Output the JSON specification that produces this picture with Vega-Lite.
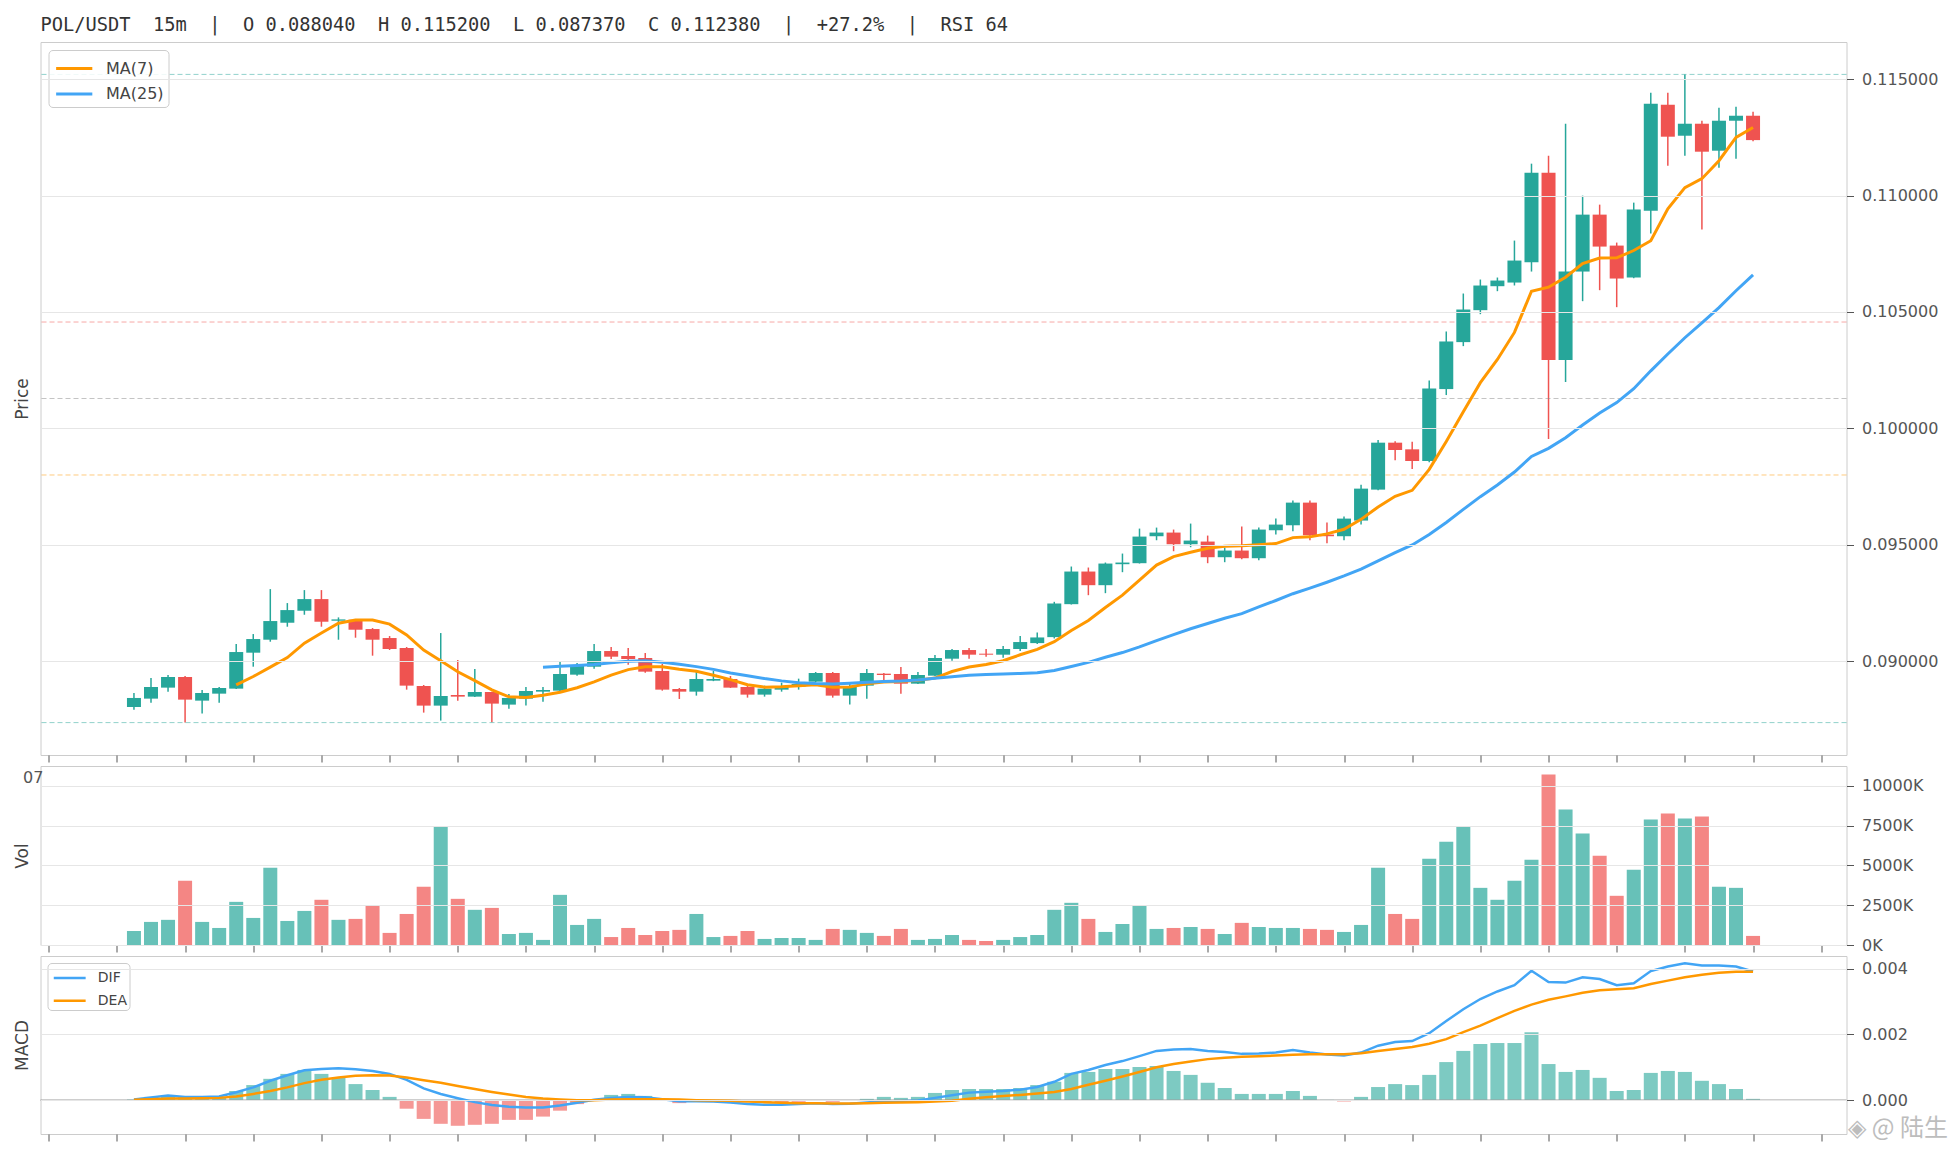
{
  "$schema": "https://vega.github.io/schema/vega-lite/v6.json",
  "background": "white",
  "padding": {"left": 12.5, "top": 15, "right": 5, "bottom": 5},
  "bounds": "flush",
  "spacing": 11,
  "config": {
    "view": {"stroke": "#cccccc", "strokeWidth": 1},
    "axis": {
      "labelFont": "DejaVu Sans", "labelFontSize": 16, "labelColor": "#555555",
      "titleFont": "DejaVu Sans", "titleFontSize": 17, "titleFontWeight": "normal", "titleColor": "#444444",
      "tickColor": "#555555", "tickSize": 7, "domain": false, "gridColor": "#e6e6e6", "gridWidth": 1, "labelPadding": 8
    },
    "legend": {"labelFont": "DejaVu Sans", "labelColor": "#444444", "title": null}
  },
  "resolve": {
    "scale": {"x": "independent", "color": "independent"},
    "axis": {"x": "independent"},
    "legend": {"color": "independent"}
  },
  "datasets": {
    "k": [
      {"i":0,"o":0.08804,"h":0.088642,"l":0.087927,"c":0.088428,"v":880000,"dif":0.00002,"dea":0.00001,"hist":0.00002},
      {"i":1,"o":0.088399,"h":0.089285,"l":0.088227,"c":0.088899,"v":1450000,"dif":0.00008,"dea":0.00003,"hist":0.0001},
      {"i":2,"o":0.088871,"h":0.089414,"l":0.088699,"c":0.089328,"v":1580000,"dif":0.00014,"dea":0.00005,"hist":0.00015},
      {"i":3,"o":0.089328,"h":0.089371,"l":0.08737,"c":0.088356,"v":4030000,"dif":0.0001,"dea":0.00005,"hist":0.0001},
      {"i":4,"o":0.088313,"h":0.088771,"l":0.087756,"c":0.088642,"v":1450000,"dif":0.0001,"dea":0.00006,"hist":0.00008},
      {"i":5,"o":0.088613,"h":0.088899,"l":0.088227,"c":0.088856,"v":1070000,"dif":0.00011,"dea":0.00007,"hist":0.0001},
      {"i":6,"o":0.088828,"h":0.090743,"l":0.08881,"c":0.0904,"v":2710000,"dif":0.00024,"dea":0.00011,"hist":0.00028},
      {"i":7,"o":0.090372,"h":0.091172,"l":0.089771,"c":0.090958,"v":1700000,"dif":0.00039,"dea":0.00019,"hist":0.00046},
      {"i":8,"o":0.090929,"h":0.093102,"l":0.090843,"c":0.09173,"v":4850000,"dif":0.00059,"dea":0.00028,"hist":0.00065},
      {"i":9,"o":0.091658,"h":0.092502,"l":0.091487,"c":0.092201,"v":1510000,"dif":0.00076,"dea":0.00039,"hist":0.0008},
      {"i":10,"o":0.092173,"h":0.093059,"l":0.092001,"c":0.092673,"v":2140000,"dif":0.00091,"dea":0.00052,"hist":0.00092},
      {"i":11,"o":0.092673,"h":0.093059,"l":0.091487,"c":0.091701,"v":2840000,"dif":0.00095,"dea":0.00062,"hist":0.0008},
      {"i":12,"o":0.091744,"h":0.091887,"l":0.090929,"c":0.091801,"v":1580000,"dif":0.00097,"dea":0.00069,"hist":0.00068},
      {"i":13,"o":0.091787,"h":0.0918,"l":0.091015,"c":0.091358,"v":1640000,"dif":0.00094,"dea":0.00074,"hist":0.00049},
      {"i":14,"o":0.091387,"h":0.09143,"l":0.090243,"c":0.090929,"v":2460000,"dif":0.00089,"dea":0.00076,"hist":0.00031},
      {"i":15,"o":0.091001,"h":0.091086,"l":0.090486,"c":0.090529,"v":760000,"dif":0.0008,"dea":0.00075,"hist":0.0001},
      {"i":16,"o":0.090572,"h":0.090615,"l":0.088785,"c":0.088957,"v":1950000,"dif":0.00062,"dea":0.00069,"hist":-0.00026},
      {"i":17,"o":0.088942,"h":0.088985,"l":0.087799,"c":0.088099,"v":3660000,"dif":0.00036,"dea":0.00061,"hist":-0.00057},
      {"i":18,"o":0.088099,"h":0.091215,"l":0.087456,"c":0.088513,"v":7460000,"dif":0.00019,"dea":0.00053,"hist":-0.00072},
      {"i":19,"o":0.088556,"h":0.090057,"l":0.088313,"c":0.088485,"v":2900000,"dif":0.00006,"dea":0.00043,"hist":-0.00078},
      {"i":20,"o":0.088485,"h":0.089671,"l":0.08847,"c":0.088685,"v":2210000,"dif":-0.00006,"dea":0.00034,"hist":-0.00075},
      {"i":21,"o":0.088685,"h":0.0887,"l":0.087384,"c":0.088185,"v":2330000,"dif":-0.00015,"dea":0.00025,"hist":-0.00072},
      {"i":22,"o":0.088142,"h":0.088599,"l":0.08797,"c":0.088428,"v":690000,"dif":-0.0002,"dea":0.00017,"hist":-0.0006},
      {"i":23,"o":0.088399,"h":0.088899,"l":0.088099,"c":0.088728,"v":760000,"dif":-0.00022,"dea":0.0001,"hist":-0.0006},
      {"i":24,"o":0.088699,"h":0.088899,"l":0.08827,"c":0.088771,"v":320000,"dif":-0.00022,"dea":0.00005,"hist":-0.0005},
      {"i":25,"o":0.088742,"h":0.089971,"l":0.08873,"c":0.089457,"v":3150000,"dif":-0.00016,"dea":0.00002,"hist":-0.00032},
      {"i":26,"o":0.089428,"h":0.089929,"l":0.089385,"c":0.089814,"v":1260000,"dif":-0.00008,"dea":0.0,"hist":-0.00012},
      {"i":27,"o":0.089771,"h":0.090743,"l":0.089686,"c":0.090443,"v":1640000,"dif":0.00001,"dea":0.0,"hist":0.00003},
      {"i":28,"o":0.090443,"h":0.090615,"l":0.0901,"c":0.0902,"v":500000,"dif":0.00007,"dea":0.00002,"hist":0.00016},
      {"i":29,"o":0.090229,"h":0.090572,"l":0.089857,"c":0.0901,"v":1070000,"dif":0.0001,"dea":0.00003,"hist":0.00019},
      {"i":30,"o":0.090143,"h":0.090357,"l":0.089514,"c":0.089557,"v":630000,"dif":0.00009,"dea":0.00003,"hist":0.00013},
      {"i":31,"o":0.089585,"h":0.089886,"l":0.088742,"c":0.088785,"v":880000,"dif":0.00003,"dea":0.00003,"hist":0.00002},
      {"i":32,"o":0.088814,"h":0.088857,"l":0.088385,"c":0.088699,"v":950000,"dif":-0.00003,"dea":0.00002,"hist":-0.00009},
      {"i":33,"o":0.088699,"h":0.089585,"l":0.088528,"c":0.089242,"v":1950000,"dif":-0.00003,"dea":0.0,"hist":-0.00003},
      {"i":34,"o":0.089171,"h":0.089585,"l":0.08915,"c":0.089242,"v":500000,"dif":-0.00004,"dea":-0.00001,"hist":-0.00005},
      {"i":35,"o":0.089242,"h":0.089371,"l":0.08886,"c":0.088871,"v":570000,"dif":-0.00007,"dea":-0.00002,"hist":-0.00006},
      {"i":36,"o":0.088899,"h":0.088985,"l":0.088442,"c":0.088571,"v":880000,"dif":-0.00012,"dea":-0.00004,"hist":-0.00006},
      {"i":37,"o":0.088571,"h":0.088957,"l":0.088485,"c":0.088828,"v":380000,"dif":-0.00014,"dea":-0.00006,"hist":-0.00007},
      {"i":38,"o":0.088785,"h":0.089085,"l":0.088699,"c":0.088914,"v":440000,"dif":-0.00014,"dea":-0.00008,"hist":-0.00007},
      {"i":39,"o":0.088914,"h":0.089257,"l":0.088785,"c":0.089028,"v":440000,"dif":-0.00012,"dea":-0.00009,"hist":-0.00005},
      {"i":40,"o":0.089128,"h":0.089543,"l":0.0891,"c":0.0895,"v":320000,"dif":-0.00009,"dea":-0.00009,"hist":-0.00002},
      {"i":41,"o":0.0895,"h":0.089543,"l":0.088442,"c":0.088528,"v":1010000,"dif":-0.00012,"dea":-0.0001,"hist":-0.00005},
      {"i":42,"o":0.088528,"h":0.089028,"l":0.088142,"c":0.088942,"v":950000,"dif":-0.00011,"dea":-0.0001,"hist":-0.00002},
      {"i":43,"o":0.088957,"h":0.089671,"l":0.088399,"c":0.0895,"v":760000,"dif":-0.00007,"dea":-0.00009,"hist":0.00004},
      {"i":44,"o":0.089471,"h":0.0895,"l":0.089171,"c":0.089414,"v":570000,"dif":-0.00003,"dea":-0.00008,"hist":0.0001},
      {"i":45,"o":0.089457,"h":0.089757,"l":0.088614,"c":0.089042,"v":1010000,"dif":-0.00003,"dea":-0.00007,"hist":0.00007},
      {"i":46,"o":0.089042,"h":0.089543,"l":0.08903,"c":0.089414,"v":320000,"dif":-0.00001,"dea":-0.00006,"hist":0.0001},
      {"i":47,"o":0.089385,"h":0.090272,"l":0.08937,"c":0.090143,"v":380000,"dif":0.00007,"dea":-0.00004,"hist":0.00022},
      {"i":48,"o":0.090114,"h":0.090529,"l":0.090029,"c":0.090486,"v":630000,"dif":0.00015,"dea":-0.00002,"hist":0.00031},
      {"i":49,"o":0.090486,"h":0.090572,"l":0.090114,"c":0.090286,"v":320000,"dif":0.00023,"dea":0.00004,"hist":0.00034},
      {"i":50,"o":0.090329,"h":0.090529,"l":0.0902,"c":0.090286,"v":250000,"dif":0.00026,"dea":0.00009,"hist":0.00034},
      {"i":51,"o":0.090286,"h":0.090657,"l":0.090157,"c":0.090529,"v":320000,"dif":0.00028,"dea":0.00013,"hist":0.00034},
      {"i":52,"o":0.090529,"h":0.091086,"l":0.090443,"c":0.090829,"v":500000,"dif":0.00032,"dea":0.00016,"hist":0.00037},
      {"i":53,"o":0.090783,"h":0.09124,"l":0.09074,"c":0.091026,"v":630000,"dif":0.0004,"dea":0.0002,"hist":0.00046},
      {"i":54,"o":0.09104,"h":0.092556,"l":0.090983,"c":0.092484,"v":2210000,"dif":0.00056,"dea":0.00025,"hist":0.00056},
      {"i":55,"o":0.092455,"h":0.094071,"l":0.09244,"c":0.093856,"v":2650000,"dif":0.0008,"dea":0.00034,"hist":0.00083},
      {"i":56,"o":0.093856,"h":0.094028,"l":0.092841,"c":0.09327,"v":1640000,"dif":0.00092,"dea":0.00047,"hist":0.00086},
      {"i":57,"o":0.09327,"h":0.094242,"l":0.092927,"c":0.094199,"v":820000,"dif":0.00107,"dea":0.00059,"hist":0.00095},
      {"i":58,"o":0.094171,"h":0.094628,"l":0.093828,"c":0.094242,"v":1320000,"dif":0.00119,"dea":0.00072,"hist":0.00095},
      {"i":59,"o":0.094214,"h":0.0957,"l":0.0942,"c":0.095357,"v":2480000,"dif":0.00134,"dea":0.00086,"hist":0.00101},
      {"i":60,"o":0.095372,"h":0.095743,"l":0.0952,"c":0.095529,"v":1010000,"dif":0.0015,"dea":0.001,"hist":0.00104},
      {"i":61,"o":0.095529,"h":0.095658,"l":0.094728,"c":0.095029,"v":1070000,"dif":0.00154,"dea":0.0011,"hist":0.00089},
      {"i":62,"o":0.095029,"h":0.095915,"l":0.0949,"c":0.095186,"v":1130000,"dif":0.00156,"dea":0.00118,"hist":0.00077},
      {"i":63,"o":0.095143,"h":0.0954,"l":0.094214,"c":0.094471,"v":1010000,"dif":0.0015,"dea":0.00125,"hist":0.00053},
      {"i":64,"o":0.094471,"h":0.094886,"l":0.094257,"c":0.094757,"v":690000,"dif":0.00147,"dea":0.00129,"hist":0.00037},
      {"i":65,"o":0.094757,"h":0.095786,"l":0.094385,"c":0.094428,"v":1390000,"dif":0.00141,"dea":0.00132,"hist":0.00019},
      {"i":66,"o":0.094428,"h":0.095743,"l":0.094342,"c":0.095658,"v":1130000,"dif":0.00142,"dea":0.00134,"hist":0.00019},
      {"i":67,"o":0.095629,"h":0.096129,"l":0.095443,"c":0.095872,"v":1070000,"dif":0.00145,"dea":0.00136,"hist":0.00019},
      {"i":68,"o":0.095843,"h":0.096901,"l":0.095586,"c":0.096815,"v":1070000,"dif":0.00153,"dea":0.00138,"hist":0.00028},
      {"i":69,"o":0.096815,"h":0.096901,"l":0.0952,"c":0.095415,"v":1010000,"dif":0.00145,"dea":0.0014,"hist":0.00013},
      {"i":70,"o":0.095443,"h":0.095958,"l":0.095071,"c":0.095372,"v":950000,"dif":0.00139,"dea":0.0014,"hist":0.00001},
      {"i":71,"o":0.095372,"h":0.096215,"l":0.0952,"c":0.096129,"v":820000,"dif":0.00136,"dea":0.0014,"hist":-0.00004},
      {"i":72,"o":0.096044,"h":0.097587,"l":0.095872,"c":0.097416,"v":1260000,"dif":0.00145,"dea":0.00143,"hist":0.0001},
      {"i":73,"o":0.097373,"h":0.0995,"l":0.09735,"c":0.099389,"v":4850000,"dif":0.00166,"dea":0.0015,"hist":0.0004},
      {"i":74,"o":0.099389,"h":0.09945,"l":0.098631,"c":0.099074,"v":1950000,"dif":0.00177,"dea":0.00156,"hist":0.00049},
      {"i":75,"o":0.099103,"h":0.099431,"l":0.098259,"c":0.098602,"v":1640000,"dif":0.0018,"dea":0.00162,"hist":0.00046},
      {"i":76,"o":0.098602,"h":0.102062,"l":0.09855,"c":0.101719,"v":5420000,"dif":0.00204,"dea":0.00172,"hist":0.00077},
      {"i":77,"o":0.10169,"h":0.104163,"l":0.101433,"c":0.103734,"v":6490000,"dif":0.00241,"dea":0.00186,"hist":0.00116},
      {"i":78,"o":0.103706,"h":0.105793,"l":0.103534,"c":0.105106,"v":7460000,"dif":0.00277,"dea":0.00207,"hist":0.0015},
      {"i":79,"o":0.105078,"h":0.106393,"l":0.104906,"c":0.106136,"v":3590000,"dif":0.00308,"dea":0.00227,"hist":0.00171},
      {"i":80,"o":0.106107,"h":0.106479,"l":0.105893,"c":0.10635,"v":2840000,"dif":0.00331,"dea":0.0025,"hist":0.00174},
      {"i":81,"o":0.106264,"h":0.108066,"l":0.106138,"c":0.107208,"v":4030000,"dif":0.0035,"dea":0.00272,"hist":0.00174},
      {"i":82,"o":0.107136,"h":0.111368,"l":0.106736,"c":0.110982,"v":5360000,"dif":0.00394,"dea":0.00291,"hist":0.00207},
      {"i":83,"o":0.110982,"h":0.111711,"l":0.099546,"c":0.102934,"v":10710000,"dif":0.0036,"dea":0.00306,"hist":0.0011},
      {"i":84,"o":0.102934,"h":0.113083,"l":0.10199,"c":0.106736,"v":8510000,"dif":0.00358,"dea":0.00316,"hist":0.00086},
      {"i":85,"o":0.106736,"h":0.109995,"l":0.105464,"c":0.10918,"v":7000000,"dif":0.00374,"dea":0.00327,"hist":0.00092},
      {"i":86,"o":0.10918,"h":0.109609,"l":0.105936,"c":0.107808,"v":5610000,"dif":0.00369,"dea":0.00335,"hist":0.00068},
      {"i":87,"o":0.107851,"h":0.10798,"l":0.105207,"c":0.106436,"v":3090000,"dif":0.0035,"dea":0.00338,"hist":0.00028},
      {"i":88,"o":0.106479,"h":0.109695,"l":0.10645,"c":0.109395,"v":4730000,"dif":0.00356,"dea":0.00341,"hist":0.00031},
      {"i":89,"o":0.109352,"h":0.114412,"l":0.108366,"c":0.113941,"v":7880000,"dif":0.00393,"dea":0.00354,"hist":0.00083},
      {"i":90,"o":0.113898,"h":0.114412,"l":0.111282,"c":0.112526,"v":8260000,"dif":0.00407,"dea":0.00364,"hist":0.00089},
      {"i":91,"o":0.112568,"h":0.1152,"l":0.111711,"c":0.113083,"v":7940000,"dif":0.00417,"dea":0.00374,"hist":0.00086},
      {"i":92,"o":0.113083,"h":0.113212,"l":0.108537,"c":0.111882,"v":8070000,"dif":0.0041,"dea":0.00382,"hist":0.00059},
      {"i":93,"o":0.111925,"h":0.113769,"l":0.111196,"c":0.113212,"v":3660000,"dif":0.0041,"dea":0.00388,"hist":0.00049},
      {"i":94,"o":0.113212,"h":0.113812,"l":0.111582,"c":0.113426,"v":3590000,"dif":0.00407,"dea":0.00391,"hist":0.00034},
      {"i":95,"o":0.113426,"h":0.113598,"l":0.11233,"c":0.11238,"v":570000,"dif":0.00392,"dea":0.00391,"hist":0.00004}
    ],
    "fib": [
      {"lvl": "0", "p": 0.1152},
      {"lvl": "0.382", "p": 0.104569},
      {"lvl": "0.5", "p": 0.101285},
      {"lvl": "0.618", "p": 0.098001},
      {"lvl": "1", "p": 0.08737}
    ],
    "zero": [{"z": 0}],
    "cut": [{"i": -5.31, "v": 10470000, "t": "07"}],
    "mark": [{"i": 100.6, "y": -0.00088, "t": "◈ @ 陆生"}]
  },
  "vconcat": [
    {
      "width": 1806,
      "height": 713,
      "title": {
        "text": "POL/USDT\u00a0\u00a015m\u00a0\u00a0|\u00a0\u00a0O\u00a00.088040\u00a0\u00a0H\u00a00.115200\u00a0\u00a0L\u00a00.087370\u00a0\u00a0C\u00a00.112380\u00a0\u00a0|\u00a0\u00a0+27.2%\u00a0\u00a0|\u00a0\u00a0RSI\u00a064",
        "anchor": "start", "frame": "group", "font": "DejaVu Sans Mono", "fontSize": 18.7,
        "fontWeight": "normal", "color": "#333333", "baseline": "alphabetic", "offset": -7.5
      },
      "layer": [
        {
          "data": {"name": "k"},
          "mark": {"type": "rule", "strokeWidth": 1.5},
          "encoding": {
            "x": {"field": "i", "type": "quantitative", "scale": {"domain": [-5.19, 100.19], "nice": false, "zero": false},
              "axis": {"values": [-5,-1,3,7,11,15,19,23,27,31,35,39,43,47,51,55,59,63,67,71,75,79,83,87,91,95,99], "labels": false, "title": null, "grid": false}},
            "y": {"field": "l", "type": "quantitative", "scale": {"domain": [0.085979, 0.116592], "nice": false, "zero": false},
              "axis": {"orient": "right", "values": [0.09, 0.095, 0.1, 0.105, 0.11, 0.115], "format": ".6f", "title": "Price",
                "titleX": -1824, "titleY": 356.5, "titleAngle": 270, "titleAlign": "center", "titleBaseline": "middle", "grid": true, "zindex": 1}},
            "y2": {"field": "h"},
            "color": {"condition": {"test": "datum.c >= datum.o", "value": "#26a69a"}, "value": "#ef5350"}
          }
        },
        {
          "data": {"name": "fib"},
          "mark": {"type": "rule", "strokeWidth": 1, "strokeDash": [5, 3], "opacity": 0.5},
          "encoding": {
            "y": {"field": "p", "type": "quantitative", "scale": {"domain": [0.085979, 0.116592], "nice": false, "zero": false}},
            "stroke": {"field": "lvl", "type": "nominal", "legend": null,
              "scale": {"domain": ["0", "0.382", "0.5", "0.618", "1"], "range": ["#26a69a", "#ef5350", "#8a8a8a", "#ff9800", "#26a69a"]}}
          }
        },
        {
          "data": {"name": "k"},
          "mark": {"type": "bar", "size": 14, "orient": "vertical"},
          "encoding": {
            "x": {"field": "i", "type": "quantitative", "scale": {"domain": [-5.19, 100.19], "nice": false, "zero": false}},
            "y": {"field": "o", "type": "quantitative", "scale": {"domain": [0.085979, 0.116592], "nice": false, "zero": false}},
            "y2": {"field": "c"},
            "color": {"condition": {"test": "datum.c >= datum.o", "value": "#26a69a"}, "value": "#ef5350"}
          }
        },
        {
          "data": {"name": "k"},
          "transform": [
            {"window": [{"op": "mean", "field": "c", "as": "ma7"}, {"op": "count", "as": "n7"}], "frame": [-6, 0], "sort": [{"field": "i"}]},
            {"filter": {"field": "n7", "gte": 7}}
          ],
          "mark": {"type": "line", "strokeWidth": 3},
          "encoding": {
            "x": {"field": "i", "type": "quantitative", "scale": {"domain": [-5.19, 100.19], "nice": false, "zero": false}},
            "y": {"field": "ma7", "type": "quantitative", "scale": {"domain": [0.085979, 0.116592], "nice": false, "zero": false}},
            "color": {"datum": "MA(7)", "type": "nominal",
              "scale": {"domain": ["MA(7)", "MA(25)"], "range": ["#ff9800", "#42a5f5"]},
              "legend": {"orient": "top-left", "offset": 8, "padding": 4.5, "symbolType": "M-0.88,0H2.05", "symbolSize": 610,
                "symbolStrokeWidth": 3, "labelFontSize": 16, "labelOffset": 25, "rowPadding": 3.4,
                "fillColor": "rgba(255,255,255,0.85)", "strokeColor": "#cccccc", "cornerRadius": 4}}
          }
        },
        {
          "data": {"name": "k"},
          "transform": [
            {"window": [{"op": "mean", "field": "c", "as": "ma25"}, {"op": "count", "as": "n25"}], "frame": [-24, 0], "sort": [{"field": "i"}]},
            {"filter": {"field": "n25", "gte": 25}}
          ],
          "mark": {"type": "line", "strokeWidth": 3},
          "encoding": {
            "x": {"field": "i", "type": "quantitative", "scale": {"domain": [-5.19, 100.19], "nice": false, "zero": false}},
            "y": {"field": "ma25", "type": "quantitative", "scale": {"domain": [0.085979, 0.116592], "nice": false, "zero": false}},
            "color": {"datum": "MA(25)", "type": "nominal", "scale": {"domain": ["MA(7)", "MA(25)"], "range": ["#ff9800", "#42a5f5"]}}
          }
        }
      ]
    },
    {
      "width": 1806,
      "height": 179,
      "layer": [
        {
          "data": {"name": "k"},
          "mark": {"type": "bar", "size": 14, "orient": "vertical", "opacity": 0.7},
          "encoding": {
            "x": {"field": "i", "type": "quantitative", "scale": {"domain": [-5.19, 100.19], "nice": false, "zero": false},
              "axis": {"values": [-5,-1,3,7,11,15,19,23,27,31,35,39,43,47,51,55,59,63,67,71,75,79,83,87,91,95,99], "labels": false, "title": null, "grid": false}},
            "y": {"field": "v", "type": "quantitative", "scale": {"domain": [0, 11245000], "nice": false},
              "axis": {"orient": "right", "values": [0, 2500000, 5000000, 7500000, 10000000],
                "labelExpr": "format(datum.value / 1000, 'd') + 'K'", "title": "Vol",
                "titleX": -1824, "titleY": 89.5, "titleAngle": 270, "titleAlign": "center", "titleBaseline": "middle", "grid": true, "zindex": 1}},
            "color": {"condition": {"test": "datum.c >= datum.o", "value": "#26a69a"}, "value": "#ef5350"}
          }
        },
        {
          "data": {"name": "cut"},
          "mark": {"type": "text", "align": "right", "baseline": "middle", "font": "DejaVu Sans", "fontSize": 16, "color": "#555555"},
          "encoding": {
            "x": {"field": "i", "type": "quantitative", "scale": {"domain": [-5.19, 100.19], "nice": false, "zero": false}},
            "y": {"field": "v", "type": "quantitative", "scale": {"domain": [0, 11245000], "nice": false}},
            "text": {"field": "t"}
          }
        }
      ]
    },
    {
      "width": 1806,
      "height": 178,
      "layer": [
        {
          "data": {"name": "k"},
          "mark": {"type": "bar", "size": 14, "orient": "vertical", "opacity": 0.6},
          "encoding": {
            "x": {"field": "i", "type": "quantitative", "scale": {"domain": [-5.19, 100.19], "nice": false, "zero": false},
              "axis": {"values": [-5,-1,3,7,11,15,19,23,27,31,35,39,43,47,51,55,59,63,67,71,75,79,83,87,91,95,99], "labels": false, "title": null, "grid": false}},
            "y": {"field": "hist", "type": "quantitative", "scale": {"domain": [-0.00103, 0.00439], "nice": false, "zero": false},
              "axis": {"orient": "right", "values": [0, 0.002, 0.004], "format": ".3f", "title": "MACD",
                "titleX": -1824, "titleY": 89, "titleAngle": 270, "titleAlign": "center", "titleBaseline": "middle", "grid": true, "zindex": 1}},
            "y2": {"datum": 0},
            "color": {"condition": {"test": "datum.hist >= 0", "value": "#26a69a"}, "value": "#ef5350"}
          }
        },
        {
          "data": {"name": "zero"},
          "mark": {"type": "rule", "color": "#9e9e9e", "strokeWidth": 1.2},
          "encoding": {
            "y": {"field": "z", "type": "quantitative", "scale": {"domain": [-0.00103, 0.00439], "nice": false, "zero": false}}
          }
        },
        {
          "data": {"name": "k"},
          "mark": {"type": "line", "strokeWidth": 2.5},
          "encoding": {
            "x": {"field": "i", "type": "quantitative", "scale": {"domain": [-5.19, 100.19], "nice": false, "zero": false}},
            "y": {"field": "dif", "type": "quantitative", "scale": {"domain": [-0.00103, 0.00439], "nice": false, "zero": false}},
            "color": {"datum": "DIF", "type": "nominal",
              "scale": {"domain": ["DIF", "DEA"], "range": ["#42a5f5", "#ff9800"]},
              "legend": {"orient": "top-left", "offset": 7, "padding": 2, "symbolType": "M-0.77,0H2.04", "symbolSize": 515,
                "symbolStrokeWidth": 2.5, "labelFontSize": 14, "labelOffset": 22.3, "rowPadding": 2.7,
                "fillColor": "rgba(255,255,255,0.85)", "strokeColor": "#cccccc", "cornerRadius": 4}}
          }
        },
        {
          "data": {"name": "k"},
          "mark": {"type": "line", "strokeWidth": 2.5},
          "encoding": {
            "x": {"field": "i", "type": "quantitative", "scale": {"domain": [-5.19, 100.19], "nice": false, "zero": false}},
            "y": {"field": "dea", "type": "quantitative", "scale": {"domain": [-0.00103, 0.00439], "nice": false, "zero": false}},
            "color": {"datum": "DEA", "type": "nominal", "scale": {"domain": ["DIF", "DEA"], "range": ["#42a5f5", "#ff9800"]}}
          }
        },
        {
          "data": {"name": "mark"},
          "mark": {"type": "text", "align": "left", "baseline": "middle", "font": "Noto Sans CJK SC", "fontSize": 24, "color": "#bdbdbd"},
          "encoding": {
            "x": {"field": "i", "type": "quantitative", "scale": {"domain": [-5.19, 100.19], "nice": false, "zero": false}},
            "y": {"field": "y", "type": "quantitative", "scale": {"domain": [-0.00103, 0.00439], "nice": false, "zero": false}},
            "text": {"field": "t"}
          }
        }
      ]
    }
  ]
}
